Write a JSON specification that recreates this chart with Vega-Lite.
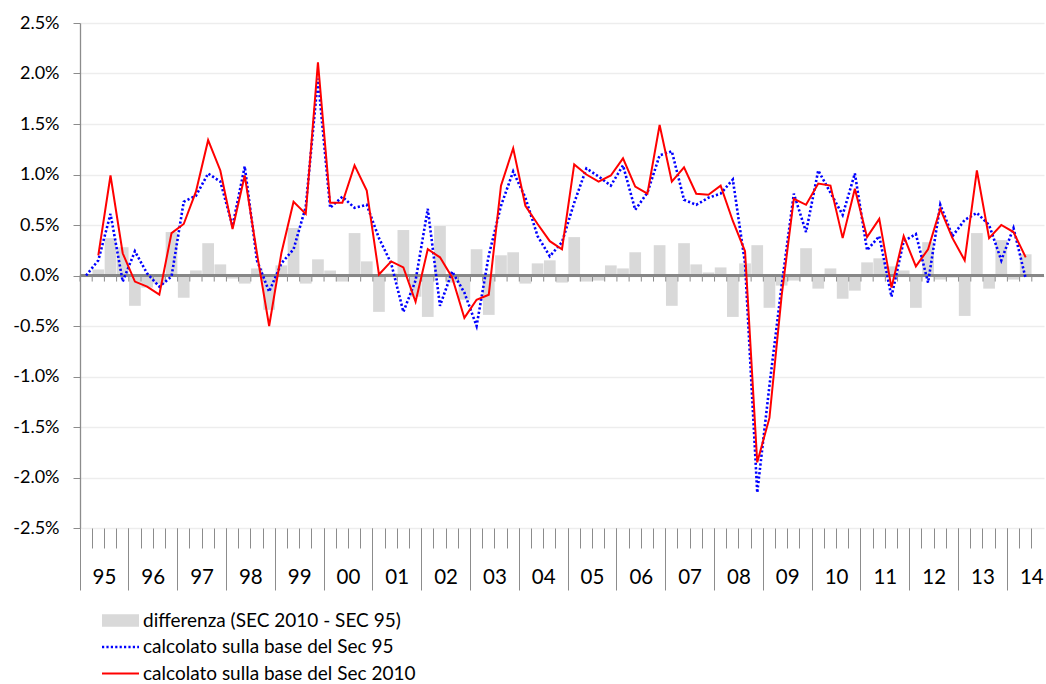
{
  "$schema": "https://vega.github.io/schema/vega-lite/v6.json",
  "width": 964,
  "height": 505,
  "autosize": "none",
  "padding": {"left": 80, "top": 23, "right": 2, "bottom": 156},
  "background": "white",
  "config": {"view": {"stroke": null}, "font": "Lato"},
  "data": {"values": [
    {"periodo":"1995 T1","diff":null,"sec95":0.00,"sec2010":null},
    {"periodo":"1995 T2","diff":0.06,"sec95":0.15,"sec2010":0.20},
    {"periodo":"1995 T3","diff":0.37,"sec95":0.61,"sec2010":0.99},
    {"periodo":"1995 T4","diff":0.28,"sec95":-0.06,"sec2010":0.22},
    {"periodo":"1996 T1","diff":-0.30,"sec95":0.24,"sec2010":-0.06},
    {"periodo":"1996 T2","diff":-0.12,"sec95":0.02,"sec2010":-0.11},
    {"periodo":"1996 T3","diff":-0.08,"sec95":-0.11,"sec2010":-0.19},
    {"periodo":"1996 T4","diff":0.43,"sec95":-0.01,"sec2010":0.42},
    {"periodo":"1997 T1","diff":-0.22,"sec95":0.73,"sec2010":0.51},
    {"periodo":"1997 T2","diff":0.05,"sec95":0.79,"sec2010":0.83},
    {"periodo":"1997 T3","diff":0.32,"sec95":1.01,"sec2010":1.34},
    {"periodo":"1997 T4","diff":0.11,"sec95":0.93,"sec2010":1.04},
    {"periodo":"1998 T1","diff":-0.03,"sec95":0.49,"sec2010":0.46},
    {"periodo":"1998 T2","diff":-0.08,"sec95":1.08,"sec2010":0.99},
    {"periodo":"1998 T3","diff":0.07,"sec95":0.15,"sec2010":0.22},
    {"periodo":"1998 T4","diff":-0.34,"sec95":-0.16,"sec2010":-0.50},
    {"periodo":"1999 T1","diff":0.10,"sec95":0.12,"sec2010":0.22},
    {"periodo":"1999 T2","diff":0.47,"sec95":0.26,"sec2010":0.73},
    {"periodo":"1999 T3","diff":-0.08,"sec95":0.68,"sec2010":0.61},
    {"periodo":"1999 T4","diff":0.16,"sec95":1.95,"sec2010":2.11},
    {"periodo":"2000 T1","diff":0.05,"sec95":0.67,"sec2010":0.72},
    {"periodo":"2000 T2","diff":-0.06,"sec95":0.78,"sec2010":0.72},
    {"periodo":"2000 T3","diff":0.42,"sec95":0.67,"sec2010":1.09},
    {"periodo":"2000 T4","diff":0.14,"sec95":0.70,"sec2010":0.84},
    {"periodo":"2001 T1","diff":-0.36,"sec95":0.37,"sec2010":0.01},
    {"periodo":"2001 T2","diff":0.02,"sec95":0.12,"sec2010":0.14},
    {"periodo":"2001 T3","diff":0.45,"sec95":-0.36,"sec2010":0.08},
    {"periodo":"2001 T4","diff":-0.21,"sec95":-0.05,"sec2010":-0.26},
    {"periodo":"2002 T1","diff":-0.41,"sec95":0.66,"sec2010":0.26},
    {"periodo":"2002 T2","diff":0.49,"sec95":-0.30,"sec2010":0.18},
    {"periodo":"2002 T3","diff":-0.07,"sec95":0.04,"sec2010":-0.02},
    {"periodo":"2002 T4","diff":-0.24,"sec95":-0.17,"sec2010":-0.42},
    {"periodo":"2003 T1","diff":0.26,"sec95":-0.50,"sec2010":-0.24},
    {"periodo":"2003 T2","diff":-0.39,"sec95":0.20,"sec2010":-0.19},
    {"periodo":"2003 T3","diff":0.20,"sec95":0.69,"sec2010":0.89},
    {"periodo":"2003 T4","diff":0.23,"sec95":1.03,"sec2010":1.26},
    {"periodo":"2004 T1","diff":-0.08,"sec95":0.77,"sec2010":0.69},
    {"periodo":"2004 T2","diff":0.12,"sec95":0.39,"sec2010":0.51},
    {"periodo":"2004 T3","diff":0.15,"sec95":0.19,"sec2010":0.34},
    {"periodo":"2004 T4","diff":-0.07,"sec95":0.33,"sec2010":0.26},
    {"periodo":"2005 T1","diff":0.38,"sec95":0.72,"sec2010":1.10},
    {"periodo":"2005 T2","diff":-0.06,"sec95":1.06,"sec2010":1.00},
    {"periodo":"2005 T3","diff":-0.05,"sec95":0.98,"sec2010":0.93},
    {"periodo":"2005 T4","diff":0.10,"sec95":0.89,"sec2010":0.99},
    {"periodo":"2006 T1","diff":0.07,"sec95":1.09,"sec2010":1.16},
    {"periodo":"2006 T2","diff":0.23,"sec95":0.65,"sec2010":0.88},
    {"periodo":"2006 T3","diff":-0.01,"sec95":0.82,"sec2010":0.81},
    {"periodo":"2006 T4","diff":0.30,"sec95":1.19,"sec2010":1.49},
    {"periodo":"2007 T1","diff":-0.30,"sec95":1.23,"sec2010":0.93},
    {"periodo":"2007 T2","diff":0.32,"sec95":0.75,"sec2010":1.07},
    {"periodo":"2007 T3","diff":0.11,"sec95":0.70,"sec2010":0.81},
    {"periodo":"2007 T4","diff":0.03,"sec95":0.77,"sec2010":0.80},
    {"periodo":"2008 T1","diff":0.08,"sec95":0.81,"sec2010":0.89},
    {"periodo":"2008 T2","diff":-0.41,"sec95":0.95,"sec2010":0.54},
    {"periodo":"2008 T3","diff":0.12,"sec95":0.12,"sec2010":0.24},
    {"periodo":"2008 T4","diff":0.30,"sec95":-2.15,"sec2010":-1.85},
    {"periodo":"2009 T1","diff":-0.32,"sec95":-1.09,"sec2010":-1.41},
    {"periodo":"2009 T2","diff":-0.10,"sec95":-0.10,"sec2010":-0.20},
    {"periodo":"2009 T3","diff":-0.05,"sec95":0.81,"sec2010":0.76},
    {"periodo":"2009 T4","diff":0.27,"sec95":0.43,"sec2010":0.70},
    {"periodo":"2010 T1","diff":-0.13,"sec95":1.04,"sec2010":0.91},
    {"periodo":"2010 T2","diff":0.07,"sec95":0.82,"sec2010":0.89},
    {"periodo":"2010 T3","diff":-0.23,"sec95":0.60,"sec2010":0.37},
    {"periodo":"2010 T4","diff":-0.15,"sec95":1.01,"sec2010":0.86},
    {"periodo":"2011 T1","diff":0.13,"sec95":0.25,"sec2010":0.38},
    {"periodo":"2011 T2","diff":0.17,"sec95":0.39,"sec2010":0.56},
    {"periodo":"2011 T3","diff":0.09,"sec95":-0.21,"sec2010":-0.12},
    {"periodo":"2011 T4","diff":0.05,"sec95":0.34,"sec2010":0.39},
    {"periodo":"2012 T1","diff":-0.32,"sec95":0.41,"sec2010":0.09},
    {"periodo":"2012 T2","diff":0.33,"sec95":-0.07,"sec2010":0.26},
    {"periodo":"2012 T3","diff":-0.04,"sec95":0.70,"sec2010":0.66},
    {"periodo":"2012 T4","diff":-0.02,"sec95":0.39,"sec2010":0.37},
    {"periodo":"2013 T1","diff":-0.40,"sec95":0.55,"sec2010":0.15},
    {"periodo":"2013 T2","diff":0.42,"sec95":0.62,"sec2010":1.04},
    {"periodo":"2013 T3","diff":-0.13,"sec95":0.50,"sec2010":0.37},
    {"periodo":"2013 T4","diff":0.35,"sec95":0.15,"sec2010":0.50},
    {"periodo":"2014 T1","diff":-0.04,"sec95":0.47,"sec2010":0.43},
    {"periodo":"2014 T2","diff":0.21,"sec95":-0.03,"sec2010":0.18},
    {"periodo":"2014 T3","diff":null,"sec95":null,"sec2010":null}
  ]},
  "transform": [{"fold": ["diff", "sec95", "sec2010"], "as": ["serie", "valore"]}],
  "layer": [
    {
      "transform": [{"filter": "datum.serie == 'diff'"}],
      "mark": {"type": "bar", "width": {"band": 0.96}},
      "encoding": {
        "x": {
          "field": "periodo", "type": "ordinal",
          "scale": {"paddingInner": 0, "paddingOuter": 0, "domain": ["1995 T1","1995 T2","1995 T3","1995 T4","1996 T1","1996 T2","1996 T3","1996 T4","1997 T1","1997 T2","1997 T3","1997 T4","1998 T1","1998 T2","1998 T3","1998 T4","1999 T1","1999 T2","1999 T3","1999 T4","2000 T1","2000 T2","2000 T3","2000 T4","2001 T1","2001 T2","2001 T3","2001 T4","2002 T1","2002 T2","2002 T3","2002 T4","2003 T1","2003 T2","2003 T3","2003 T4","2004 T1","2004 T2","2004 T3","2004 T4","2005 T1","2005 T2","2005 T3","2005 T4","2006 T1","2006 T2","2006 T3","2006 T4","2007 T1","2007 T2","2007 T3","2007 T4","2008 T1","2008 T2","2008 T3","2008 T4","2009 T1","2009 T2","2009 T3","2009 T4","2010 T1","2010 T2","2010 T3","2010 T4","2011 T1","2011 T2","2011 T3","2011 T4","2012 T1","2012 T2","2012 T3","2012 T4","2013 T1","2013 T2","2013 T3","2013 T4","2014 T1","2014 T2","2014 T3"]},
          "axis": {
            "orient": "bottom",
            "values": ["1995 T1","1996 T1","1997 T1","1998 T1","1999 T1","2000 T1","2001 T1","2002 T1","2003 T1","2004 T1","2005 T1","2006 T1","2007 T1","2008 T1","2009 T1","2010 T1","2011 T1","2012 T1","2013 T1","2014 T1"],
            "bandPosition": 0,
            "tickSize": 62,
            "tickColor": "#8c8c8c",
            "tickWidth": 1,
            "domain": false,
            "grid": false,
            "title": null,
            "labelExpr": "slice(datum.value, 2, 4)",
            "labelAngle": 0,
            "labelOffset": 18.3,
            "labelPadding": -13,
            "labelBaseline": "middle",
            "labelAlign": "center",
            "labelFont": "Lato",
            "labelFontSize": 20.5,
            "labelColor": "#000000",
            "labelOverlap": false,
            "labelFlush": false,
            "labelBound": false
          }
        },
        "y": {
          "field": "valore", "type": "quantitative",
          "scale": {"domain": [-2.5, 2.5], "nice": false, "zero": false},
          "axis": {
            "values": [-2.5, -2, -1.5, -1, -0.5, 0, 0.5, 1, 1.5, 2, 2.5],
            "grid": true,
            "gridColor": "#ededed",
            "gridWidth": 1.3,
            "tickSize": 7,
            "tickColor": "#8c8c8c",
            "domainColor": "#8c8c8c",
            "domainWidth": 1.3,
            "title": null,
            "labelExpr": "(datum.value < 0 ? '-' : '') + format(abs(datum.value), '.1f') + '%'",
            "labelFont": "Lato",
            "labelFontSize": 18,
            "labelPadding": 14,
            "labelColor": "#000000"
          }
        },
        "color": {
          "field": "serie", "type": "nominal",
          "scale": {"domain": ["diff", "sec95", "sec2010"], "range": ["#d9d9d9", "#0000ff", "#ff0000"]},
          "legend": {
            "orient": "none",
            "legendX": 31,
            "legendY": 588,
            "direction": "vertical",
            "title": null,
            "labelFont": "Lato",
            "labelFontSize": 19,
            "labelColor": "#000000",
            "labelLimit": 500,
            "symbolSize": 152,
            "labelOffset": 13,
            "rowPadding": 6.5,
            "labelExpr": "datum.value == 'diff' ? 'differenza (SEC 2010 - SEC 95)' : datum.value == 'sec95' ? 'calcolato sulla base del Sec 95' : 'calcolato sulla base del Sec 2010'",
            "encode": {
              "symbols": {
                "update": {
                  "shape": {"signal": "datum.value == 'diff' ? 'M-3,-1H3V1H-3Z' : 'M-3,0H3'"},
                  "fill": {"signal": "datum.value == 'diff' ? '#d9d9d9' : 'transparent'"},
                  "stroke": {"signal": "datum.value == 'sec95' ? '#0000ff' : datum.value == 'sec2010' ? '#ff0000' : 'transparent'"},
                  "strokeWidth": {"signal": "datum.value == 'sec95' ? 2.6 : datum.value == 'sec2010' ? 2 : 0"},
                  "strokeDash": {"signal": "datum.value == 'sec95' ? [2.2, 2.2] : [1, 0]"},
                  "opacity": {"value": 1}
                }
              }
            }
          }
        }
      }
    },
    {
      "mark": {"type": "rule", "color": "#878787", "strokeWidth": 2.5},
      "encoding": {"y": {"datum": 0}}
    },
    {
      "transform": [{"filter": "datum.serie == 'diff'"}],
      "mark": {"type": "rule", "color": "#8c8c8c", "strokeWidth": 1},
      "encoding": {
        "x": {
          "field": "periodo", "type": "ordinal", "bandPosition": 0,
          "axis": {
            "orient": "bottom",
            "bandPosition": 0,
            "tickSize": 20,
            "tickColor": "#8c8c8c",
            "tickWidth": 1,
            "labels": false,
            "domain": false,
            "grid": false,
            "title": null
          }
        },
        "y": {"datum": 0},
        "y2": {"datum": -0.06}
      }
    },
    {
      "transform": [{"filter": "datum.serie == 'sec95'"}],
      "mark": {"type": "line", "strokeWidth": 2.6, "strokeDash": [2.2, 2.2]},
      "encoding": {
        "x": {"field": "periodo", "type": "ordinal", "axis": null},
        "y": {"field": "valore", "type": "quantitative"},
        "color": {"field": "serie", "type": "nominal", "legend": null}
      }
    },
    {
      "transform": [{"filter": "datum.serie == 'sec2010'"}],
      "mark": {"type": "line", "strokeWidth": 2},
      "encoding": {
        "x": {"field": "periodo", "type": "ordinal", "axis": null},
        "y": {"field": "valore", "type": "quantitative"},
        "color": {"field": "serie", "type": "nominal", "legend": null}
      }
    }
  ],
  "resolve": {"axis": {"x": "independent"}}
}
